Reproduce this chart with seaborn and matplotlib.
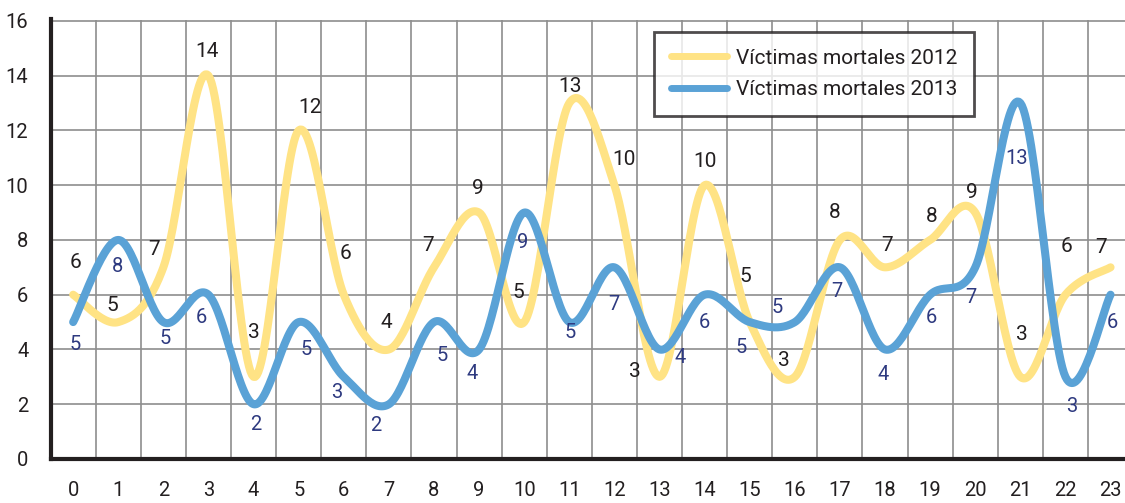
import numpy as np
import pandas as pd
import seaborn as sns
import matplotlib.pyplot as plt

# hours of the day
hours = list(range(24))
victims_2012 = [6, 5, 7, 14, 3, 12, 6, 4, 7, 9, 5, 13, 10, 3, 10, 5, 3, 8, 7, 8, 9, 3, 6, 7]
victims_2013 = [5, 8, 5, 6, 2, 5, 3, 2, 5, 4, 9, 5, 7, 4, 6, 5, 5, 7, 4, 6, 7, 13, 3, 6]
y_ticks = [0, 2, 4, 6, 8, 10, 12, 14, 16]

# label offsets in pixels (dx, dy; dy positive = downwards), placed by hand like the original
off_2012 = [(2, -32), (-6, -17), (-9, -18), (-1, -24), (0, -44), (11, -23), (2, -41), (-3, -27),
            (-6, -22), (-1, -24), (-6, -30), (1, -17), (10, -26), (-25, -5), (0, -24), (-4, -46),
            (-11, -16), (-5, -27), (2, -22), (2, -23), (-3, -20), (2, -42), (1, -48), (-10, -20)]
off_2013 = [(2, 22), (-1, 27), (2, 16), (-7, 23), (2, 20), (7, 27), (-7, 16), (-13, 21),
            (8, 33), (-7, 24), (-2, 30), (1, 10), (-1, 37), (21, 8), (0, 28), (-9, 25),
            (-18, -15), (-3, 24), (-2, 25), (1, 23), (-4, 30), (-4, 55), (6, 30), (2, 28)]

YELLOW = "#FFE385"
BLUE = "#5AA2D6"
NAVY = "#2E3A80"
BLACK = "#231F20"


def smooth(xs, ys, steps=30):
    # excel-like smoothed line: catmull-rom bezier between the points
    x = np.asarray(xs, dtype=float)
    y = np.asarray(ys, dtype=float)
    px = np.concatenate([[x[0]], x, [x[-1]]])
    py = np.concatenate([[y[0]], y, [y[-1]]])
    out_x, out_y = [], []
    t = np.linspace(0, 1, steps)
    for i in range(1, len(px) - 2):
        p0x, p0y = px[i], py[i]
        p3x, p3y = px[i + 1], py[i + 1]
        c1x = p0x + (px[i + 1] - px[i - 1]) / 6
        c1y = p0y + (py[i + 1] - py[i - 1]) / 6
        c2x = p3x - (px[i + 2] - px[i]) / 6
        c2y = p3y - (py[i + 2] - py[i]) / 6
        bx = (1 - t) ** 3 * p0x + 3 * (1 - t) ** 2 * t * c1x + 3 * (1 - t) * t ** 2 * c2x + t ** 3 * p3x
        by = (1 - t) ** 3 * p0y + 3 * (1 - t) ** 2 * t * c1y + 3 * (1 - t) * t ** 2 * c2y + t ** 3 * p3y
        out_x.extend(bx)
        out_y.extend(by)
    return np.array(out_x), np.array(out_y)


sns.set_style("white")
plt.rcParams['font.family'] = ['Roboto', 'DejaVu Sans']

fig = plt.figure(figsize=(11.25, 5.03), dpi=100)
ax = fig.add_axes([50.6 / 1125, 44 / 503, 1 - 50.6 / 1125, 439.5 / 503])

sx, sy = smooth(hours, victims_2012)
sns.lineplot(x=sx, y=sy, sort=False, color=YELLOW, linewidth=5.8, ax=ax,
             label="Víctimas mortales 2012", solid_capstyle='round')
sx, sy = smooth(hours, victims_2013)
sns.lineplot(x=sx, y=sy, sort=False, color=BLUE, linewidth=5.8, ax=ax,
             label="Víctimas mortales 2013", solid_capstyle='round')

for h, v, (dx, dy) in zip(hours, victims_2012, off_2012):
    ax.annotate(str(v), (h, v), xytext=(dx * 0.72, -dy * 0.72), textcoords='offset points',
                ha='center', va='center', fontsize=15, color=BLACK)
for h, v, (dx, dy) in zip(hours, victims_2013, off_2013):
    ax.annotate(str(v), (h, v), xytext=(dx * 0.72, -dy * 0.72), textcoords='offset points',
                ha='center', va='center', fontsize=14.5, color=NAVY)

ax.set_xlim(-0.5, 23.32)
ax.set_ylim(0, 16.05)
ax.set_yticks(y_ticks)
ax.set_xticks(hours)
ax.set_xticks([h + 0.5 for h in hours[:-1]], minor=True)
ax.grid(False)
ax.grid(True, axis='x', which='minor', color='#8E8E8E', linewidth=1.2)
ax.grid(True, axis='y', which='major', color='#8E8E8E', linewidth=1.2)
ax.set_axisbelow(True)
ax.tick_params(axis='both', which='both', length=0, labelsize=14.5, colors=BLACK)
ax.tick_params(axis='x', pad=16)
ax.tick_params(axis='y', pad=16)
for s in ['top', 'right']:
    ax.spines[s].set_visible(False)
for s in ['left', 'bottom']:
    ax.spines[s].set_color(BLACK)
    ax.spines[s].set_linewidth(3)
ax.set_xlabel("")
ax.set_ylabel("")

leg = ax.legend(loc='upper left', bbox_to_anchor=(654 / 1125, 1 - 32 / 503),
                bbox_transform=fig.transFigure, fontsize=15, frameon=True, fancybox=False,
                handlelength=2.7, borderaxespad=0, borderpad=0.8, labelspacing=0.6,
                handletextpad=0.45)
leg.get_frame().set_edgecolor(BLACK)
leg.get_frame().set_linewidth(2)
for line in leg.get_lines():
    line.set_linewidth(5)
for txt in leg.get_texts():
    txt.set_color(BLACK)

fig.savefig("out.png", dpi=100)
